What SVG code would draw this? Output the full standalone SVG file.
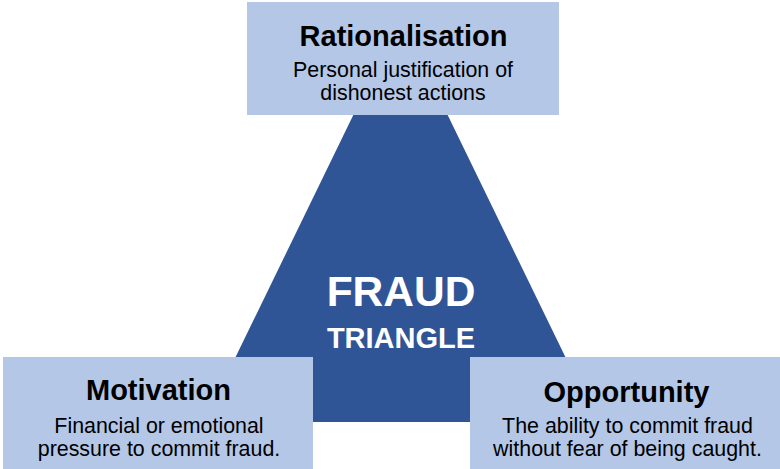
<svg xmlns="http://www.w3.org/2000/svg" width="780" height="469" viewBox="0 0 780 469">
<style>
.box{fill:#B4C7E7}
.tri{fill:#2F5597}
.t{font-family:"Liberation Sans",Arial,sans-serif;text-anchor:middle;fill:#000}
.h{font-weight:bold;font-size:29px}
.s{font-size:21.4px}
.w{font-family:"Liberation Sans",Arial,sans-serif;text-anchor:middle;fill:#fff;font-weight:bold}
</style>
<rect width="780" height="469" fill="#fff"/>
<g id="triangle">
<polygon class="tri" points="400.5,18 204,422 597,422"/>
<text class="w" x="401" y="306" font-size="42.5">FRAUD</text>
<text class="w" x="401" y="348" font-size="29">TRIANGLE</text>
</g>
<g id="connectors"></g>
<g id="rationalisation">
<rect class="box" x="247" y="2" width="312" height="113"/>
<text class="t h" x="403.5" y="46">Rationalisation</text>
<text class="t s" x="403" y="77">Personal justification of</text>
<text class="t s" x="403" y="100">dishonest actions</text>
</g>
<g id="motivation">
<rect class="box" x="3" y="357" width="310" height="112"/>
<text class="t h" x="158.5" y="400">Motivation</text>
<text class="t s" x="159" y="433">Financial or emotional</text>
<text class="t s" x="159" y="456">pressure to commit fraud.</text>
</g>
<g id="opportunity">
<rect class="box" x="470" y="357" width="310" height="112"/>
<text class="t h" x="626.5" y="402">Opportunity</text>
<text class="t s" x="627.5" y="433">The ability to commit fraud</text>
<text class="t s" x="627.5" y="456">without fear of being caught.</text>
</g>
</svg>
